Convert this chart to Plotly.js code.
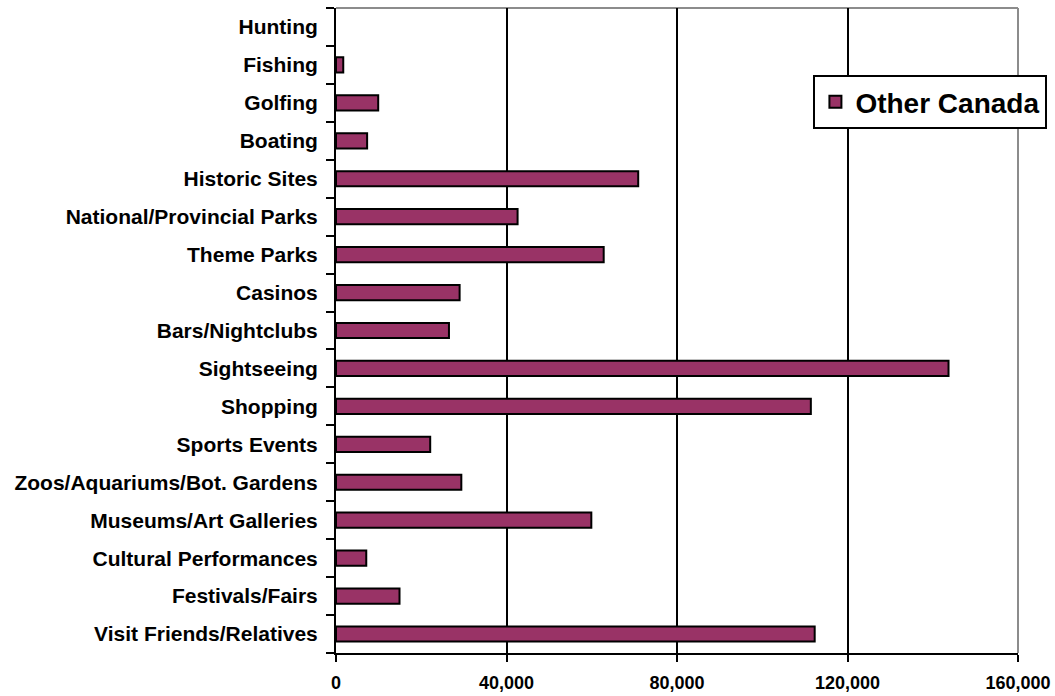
<!DOCTYPE html>
<html>
<head>
<meta charset="utf-8">
<script src="https://cdn.plot.ly/plotly-3.0.1.min.js"></script>
<style>html,body{margin:0;padding:0;background:#fff;}</style>
</head>
<body>
<div id="chart" style="width:1055px;height:696px;"></div>
<script>
// Categories listed bottom to top
const categories = [
  "Visit Friends/Relatives",
  "Festivals/Fairs",
  "Cultural Performances",
  "Museums/Art Galleries",
  "Zoos/Aquariums/Bot. Gardens",
  "Sports Events",
  "Shopping",
  "Sightseeing",
  "Bars/Nightclubs",
  "Casinos",
  "Theme Parks",
  "National/Provincial Parks",
  "Historic Sites",
  "Boating",
  "Golfing",
  "Fishing",
  "Hunting"
];
const otherCanada = [
  112300, 14900, 7100, 59900, 29400, 22100, 111400, 143700,
  26500, 29000, 62800, 42600, 70900, 7300, 9900, 1700, 0
];
const seriesName = "Other Canada";
const xTickVals = [0, 40000, 80000, 120000, 160000];
const xTickText = ["0", "40,000", "80,000", "120,000", "160,000"];

const FONT = "Liberation Sans, Arial, sans-serif";

const trace = {
  type: "bar",
  orientation: "h",
  name: seriesName,
  y: categories,
  x: otherCanada,
  marker: {
    color: "#993366",
    line: { color: "#000000", width: otherCanada.map(v => (v > 0 ? 2 : 0)) }
  },
  hoverinfo: "x+y"
};

const layout = {
  width: 1055,
  height: 696,
  margin: { l: 336, r: 36, t: 8, b: 43, pad: 0 },
  paper_bgcolor: "#ffffff",
  plot_bgcolor: "#ffffff",
  bargap: 0.6,
  showlegend: true,
  legend: {
    x: 0.699, y: 0.896, xanchor: "left", yanchor: "top",
    bgcolor: "#ffffff", bordercolor: "#000000", borderwidth: 2,
    font: { family: FONT, size: 28, color: "#000", weight: "bold" },
    itemwidth: 30
  },
  xaxis: {
    range: [0, 160000],
    tickvals: xTickVals,
    ticktext: xTickText,
    showgrid: true, gridcolor: "#000000", gridwidth: 2,
    zeroline: false,
    showline: true, linecolor: "#000000", linewidth: 2,
    ticks: "outside", ticklen: 7, tickwidth: 2, tickcolor: "#000000",
    ticklabelstandoff: 5,
    tickfont: { family: FONT, size: 18, color: "#000", weight: "bold" },
    fixedrange: true
  },
  yaxis: {
    type: "category",
    categoryorder: "array",
    categoryarray: categories,
    showgrid: false,
    zeroline: false,
    showline: true, linecolor: "#000000", linewidth: 2,
    ticks: "outside", tickson: "boundaries", ticklen: 8, tickwidth: 2, tickcolor: "#000000",
    ticklabelstandoff: 12,
    tickfont: { family: FONT, size: 21, color: "#000", weight: "bold" },
    fixedrange: true
  },
  shapes: [
    { type: "line", xref: "paper", yref: "paper", x0: 0, x1: 1, y0: 1, y1: 1,
      line: { color: "#8c8c8c", width: 2 }, layer: "below" },
    { type: "line", xref: "paper", yref: "paper", x0: 1, x1: 1, y0: 0, y1: 1,
      line: { color: "#8c8c8c", width: 2 }, layer: "below" }
  ]
};

Plotly.newPlot("chart", [trace], layout, { displayModeBar: false, staticPlot: true });
</script>
</body>
</html>
